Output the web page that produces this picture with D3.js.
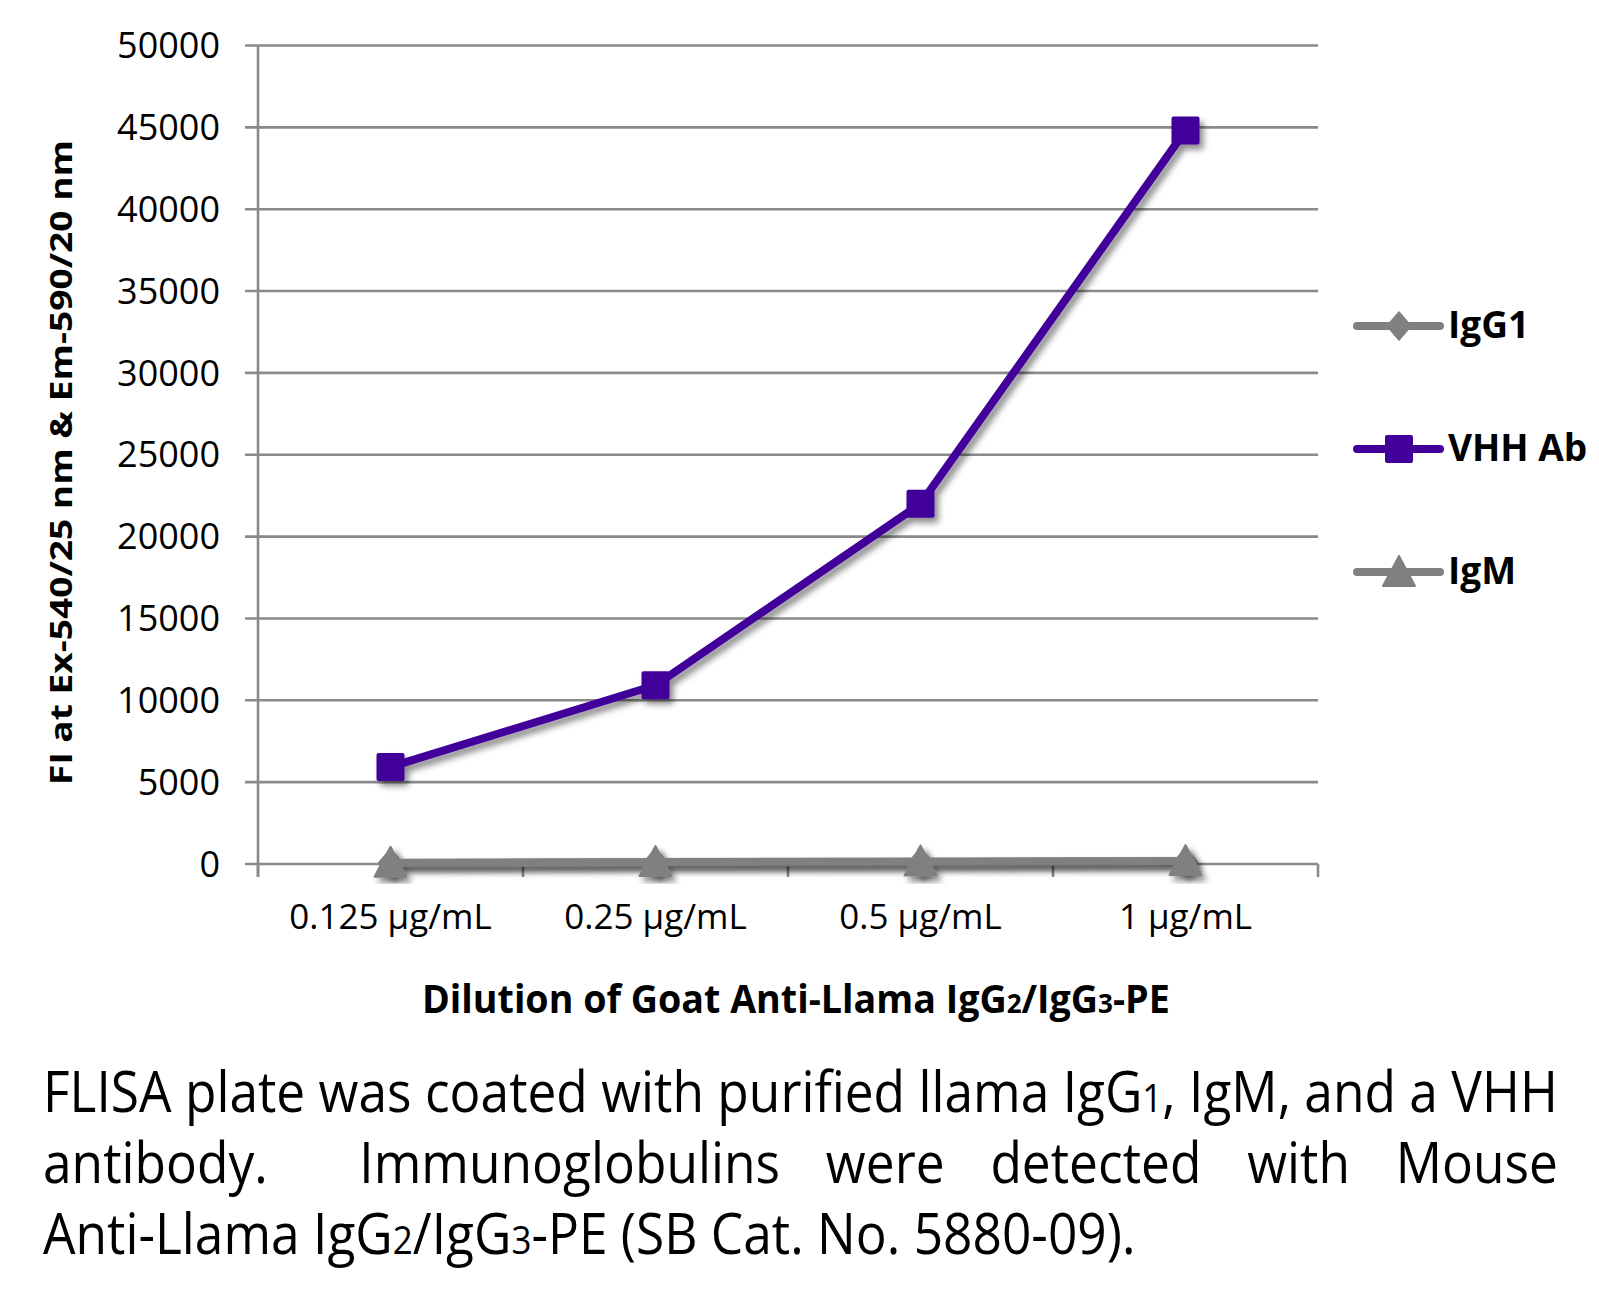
<!DOCTYPE html>
<html>
<head>
<meta charset="utf-8">
<script src="https://cdn.jsdelivr.net/npm/d3@7"></script>
<style>
html,body{margin:0;padding:0;background:#fff;}
svg{display:block;}
text{font-family:"Open Sans","Noto Sans",sans-serif;fill:#000;}
</style>
</head>
<body>
<svg id="chart" width="1599" height="1306"></svg>
<script>
// ---- data ----
const categories = ["0.125 µg/mL", "0.25 µg/mL", "0.5 µg/mL", "1 µg/mL"];
const seriesNames = ["IgG1", "VHH Ab", "IgM"];
const igg1Values = [60, 90, 110, 130];
const vhhValues = [5930, 10920, 22000, 44800];
const igmValues = [80, 120, 160, 180];
const yTickValues = [0, 5000, 10000, 15000, 20000, 25000, 30000, 35000, 40000, 45000, 50000];
const yTitle = "FI at Ex-540/25 nm & Em-590/20 nm";
const captionLine1 = [["FLISA plate was coated with purified llama IgG", false], ["1", true], [", IgM, and a VHH", false]];
const captionLine2 = ["antibody.", "", "Immunoglobulins", "were", "detected", "with", "Mouse"];
const captionLine3 = [["Anti-Llama IgG", false], ["2", true], ["/IgG", false], ["3", true], ["-PE (SB Cat. No. 5880-09).", false]];
const xTitleParts = [["Dilution of Goat Anti-Llama IgG", false], ["2", true], ["/IgG", false], ["3", true], ["-PE", false]];

const series = [
  {name: seriesNames[0], values: igg1Values, color: "#808080", marker: "diamond"},
  {name: seriesNames[2], values: igmValues, color: "#808080", marker: "triangle"},
  {name: seriesNames[1], values: vhhValues, color: "#42009a", marker: "square"}
];
const legendOrder = [
  {name: seriesNames[0], color: "#808080", marker: "diamond"},
  {name: seriesNames[1], color: "#42009a", marker: "square"},
  {name: seriesNames[2], color: "#808080", marker: "triangle"}
];

// ---- layout ----
const svg = d3.select("#chart");
const plotLeft = 258, plotRight = 1318, plotTop = 45.5, plotBottom = 864;
const gridColor = "#8a8a8a";

const x = d3.scaleBand().domain(categories).range([plotLeft, plotRight]).padding(0);
const xc = c => x(c) + x.bandwidth() / 2;
const y = d3.scaleLinear().domain([0, 50000]).range([plotBottom, plotTop]);

const defs = svg.append("defs");
const f = defs.append("filter").attr("id", "shadow").attr("x", "-20%").attr("y", "-20%").attr("width", "140%").attr("height", "140%");
f.append("feDropShadow").attr("dx", 4).attr("dy", 5).attr("stdDeviation", 3.2)
  .attr("flood-color", "#000").attr("flood-opacity", 0.45);

// gridlines + y ticks
svg.append("g").selectAll("line").data(yTickValues).join("line")
  .attr("x1", plotLeft - 13).attr("x2", plotRight)
  .attr("y1", d => y(d)).attr("y2", d => y(d))
  .attr("stroke", gridColor).attr("stroke-width", 2.6);

// y axis line
svg.append("line").attr("x1", plotLeft).attr("x2", plotLeft).attr("y1", plotTop).attr("y2", plotBottom + 13)
  .attr("stroke", gridColor).attr("stroke-width", 2.6);

// x ticks at band boundaries
const boundaries = categories.map(c => x(c)).concat([x(categories[categories.length - 1]) + x.bandwidth()]);
svg.append("g").selectAll("line").data(boundaries).join("line")
  .attr("x1", d => d).attr("x2", d => d).attr("y1", plotBottom).attr("y2", plotBottom + 13)
  .attr("stroke", gridColor).attr("stroke-width", 2.6);

// y tick labels
svg.append("g").selectAll("text").data(yTickValues).join("text")
  .attr("x", 220).attr("y", d => y(d)).attr("dy", "0.35em")
  .attr("text-anchor", "end").attr("font-size", 36).text(d => d);

// x tick labels
svg.append("g").selectAll("text").data(categories).join("text")
  .attr("x", d => xc(d)).attr("y", 929)
  .attr("text-anchor", "middle").attr("font-size", 35).text(d => d);

// y title
const yg = svg.append("g");
const ytEl = yg.append("text").attr("text-anchor", "middle").attr("font-size", 30)
  .attr("font-weight", "bold").text(yTitle);
const ytw = ytEl.node().getComputedTextLength();
yg.attr("transform", `translate(72,462.5) rotate(-90) scale(${645 / ytw},1)`);

// x title
const xg = svg.append("g");
const xt = xg.append("text").attr("x", 0).attr("y", 0).attr("text-anchor", "start")
  .attr("font-size", 39).attr("font-weight", "bold");
xTitleParts.forEach(([t, small]) => {
  const ts = xt.append("tspan").text(t);
  if (small) ts.attr("font-size", 27);
});
const xtw = xt.node().getComputedTextLength();
const xsc = 748 / xtw;
xg.attr("transform", `translate(${796 - 374},1013) scale(${xsc},1)`);

// markers
function marker(g, type, mx, my, color) {
  if (type === "square") {
    g.append("rect").attr("x", mx - 14).attr("y", my - 14).attr("width", 28).attr("height", 28)
      .attr("rx", 2).attr("fill", color);
  } else if (type === "triangle") {
    g.append("path").attr("d", `M${mx},${my - 16} L${mx + 16},${my + 14} L${mx - 16},${my + 14} Z`)
      .attr("fill", color).attr("stroke", color).attr("stroke-width", 2).attr("stroke-linejoin", "round");
  } else {
    g.append("path").attr("d", `M${mx},${my - 14} L${mx + 12},${my} L${mx},${my + 14} L${mx - 12},${my} Z`)
      .attr("fill", color).attr("stroke", color).attr("stroke-width", 1.5).attr("stroke-linejoin", "round");
  }
}

const line = d3.line().x((d, i) => xc(categories[i])).y(d => y(d));
series.forEach(s => {
  const g = svg.append("g").attr("filter", "url(#shadow)");
  g.append("path").attr("d", line(s.values)).attr("fill", "none")
    .attr("stroke", s.color).attr("stroke-width", 8).attr("stroke-linejoin", "round");
  s.values.forEach((v, i) => marker(g, s.marker, xc(categories[i]), y(v), s.color));
});

// legend
const legendY = [326, 449, 572];
legendOrder.forEach((s, i) => {
  const g = svg.append("g");
  g.append("line").attr("x1", 1357).attr("x2", 1440).attr("y1", legendY[i]).attr("y2", legendY[i])
    .attr("stroke", s.color).attr("stroke-width", 8).attr("stroke-linecap", "round");
  marker(g, s.marker, 1399, legendY[i], s.color);
  g.append("text").attr("x", 1448).attr("y", legendY[i] + 12).attr("font-size", 37)
    .attr("font-weight", "bold").text(s.name);
});

// caption
const capX = 43, capW = 1515, capSize = 57;
const cap = svg.append("g");
function richText(parent, parts, yy) {
  const t = parent.append("text").attr("x", 0).attr("y", yy).attr("font-size", capSize);
  parts.forEach(([s, small]) => {
    const ts = t.append("tspan").text(s);
    if (small) ts.attr("font-size", capSize * 0.68);
  });
  return t;
}
const l1 = richText(cap, captionLine1, 1112);
const w1 = l1.node().getComputedTextLength();
const sc = capW / w1;
cap.attr("transform", `translate(${capX},0) scale(${sc},1)`);
richText(cap, captionLine3, 1254);
// justified line 2
const words = captionLine2.map(w => {
  const t = cap.append("text").attr("y", 1183).attr("font-size", capSize).text(w);
  return {t, w: w ? t.node().getComputedTextLength() : 0, empty: !w};
});
const total = d3.sum(words, d => d.w);
const gap = (w1 - total) / (words.length - 1);
let curX = 0;
words.forEach(d => {
  d.t.attr("x", curX);
  curX += d.w + gap;
  if (d.empty) d.t.remove();
});
</script>
</body>
</html>
